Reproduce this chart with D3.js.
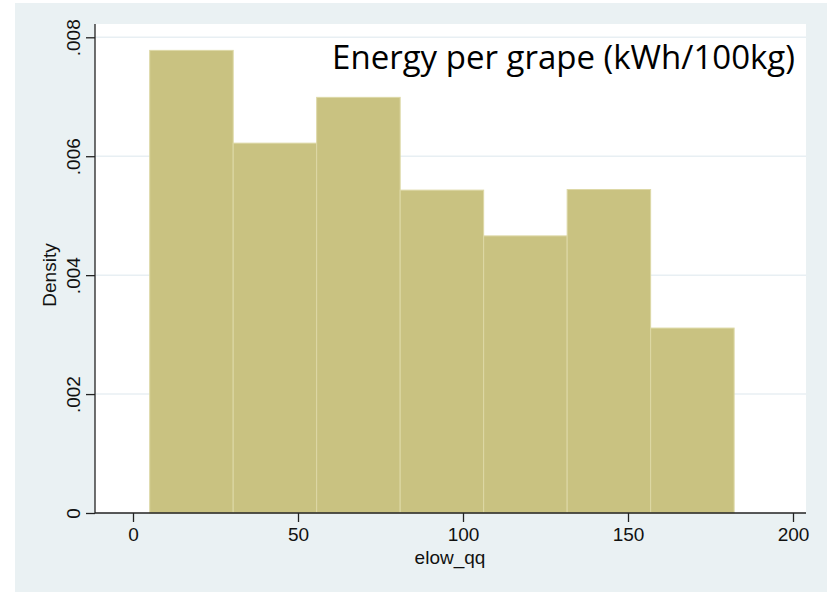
<!DOCTYPE html>
<html>
<head>
<meta charset="utf-8">
<script src="https://cdn.jsdelivr.net/npm/d3@7"></script>
<style>
  body { margin: 0; background: #fff; }
  svg { display: block; }
</style>
</head>
<body>
<svg id="chart"></svg>
<script>
// histogram of elow_qq: bin edges and densities
const binStart = 5.06;
const binWidth = 25.3;
const densities = [0.00778, 0.00622, 0.00699, 0.00543, 0.00466, 0.00544, 0.00311];
const xTicks = [0, 50, 100, 150, 200];
const yTicks = [0, 0.002, 0.004, 0.006, 0.008];
const yTickLabels = ["0", ".002", ".004", ".006", ".008"];
const title = "Energy per grape (kWh/100kg)";

const width = 833, height = 592;
const plot = { left: 95, right: 806, top: 24, bottom: 513 };
const font = "'Liberation Sans', Arial, Helvetica, sans-serif";

const svg = d3.select("#chart").attr("width", width).attr("height", height);

// outer grey-blue panel
svg.append("rect")
  .attr("x", 15).attr("y", 3)
  .attr("width", 812).attr("height", 589)
  .attr("fill", "#eaf1f3");

// white plot region
svg.append("rect")
  .attr("x", plot.left).attr("y", plot.top)
  .attr("width", plot.right - plot.left).attr("height", plot.bottom - plot.top)
  .attr("fill", "#fff");

const x = d3.scaleLinear().domain([0, 200]).range([133, 793]);
const y = d3.scaleLinear().domain([0, 0.008]).range([plot.bottom, 37.3]);

// gridlines
svg.append("g")
  .selectAll("line")
  .data(yTicks.filter(d => d > 0))
  .join("line")
  .attr("x1", plot.left).attr("x2", plot.right)
  .attr("y1", d => y(d)).attr("y2", d => y(d))
  .attr("stroke", "#e8eff3")
  .attr("stroke-width", 1.5);

// bars
const bins = densities.map((d, i) => ({ x0: binStart + i * binWidth, x1: binStart + (i + 1) * binWidth, d }));
svg.append("g")
  .selectAll("rect")
  .data(bins)
  .join("rect")
  .attr("x", b => x(b.x0))
  .attr("y", b => y(b.d))
  .attr("width", b => x(b.x1) - x(b.x0))
  .attr("height", b => y(0) - y(b.d))
  .attr("fill", "#c9c281")
  .attr("stroke", "#ddd8a6")
  .attr("stroke-width", 1);

// axes
const xAxis = svg.append("g")
  .attr("transform", "translate(0," + plot.bottom + ")")
  .call(d3.axisBottom(x).tickValues(xTicks).tickSize(9).tickPadding(6).tickSizeOuter(0));
xAxis.select(".domain").attr("d", "M" + plot.left + ",0H" + plot.right).attr("stroke", "#222").attr("stroke-width", 1.3);
xAxis.selectAll(".tick line").attr("stroke", "#222").attr("stroke-width", 1.3);
xAxis.selectAll("text")
  .attr("font-family", font)
  .attr("font-size", 19)
  .attr("fill", "#111");

const yAxis = svg.append("g")
  .attr("transform", "translate(" + plot.left + ",0)")
  .call(d3.axisLeft(y).tickValues(yTicks).tickFormat((d, i) => yTickLabels[i]).tickSize(9).tickSizeOuter(0));
yAxis.select(".domain").attr("d", "M0," + plot.bottom + "V" + plot.top).attr("stroke", "#222").attr("stroke-width", 1.3);
yAxis.selectAll(".tick line").attr("stroke", "#222").attr("stroke-width", 1.3);
yAxis.selectAll("text")
  .attr("x", null).attr("dy", null)
  .attr("transform", "translate(-15,0) rotate(-90)")
  .attr("text-anchor", "middle")
  .attr("font-family", font)
  .attr("font-size", 19)
  .attr("fill", "#111");

// axis titles
svg.append("text")
  .attr("transform", "translate(56,275) rotate(-90)")
  .attr("text-anchor", "middle")
  .attr("font-family", font)
  .attr("font-size", 19)
  .attr("fill", "#111")
  .text("Density");

svg.append("text")
  .attr("x", 450).attr("y", 564)
  .attr("text-anchor", "middle")
  .attr("font-family", font)
  .attr("font-size", 19)
  .attr("fill", "#111")
  .text("elow_qq");

// overlay title
svg.append("text")
  .attr("x", 795).attr("y", 69)
  .attr("text-anchor", "end")
  .attr("font-family", "'Open Sans', Lato, sans-serif")
  .attr("font-size", 33)
  .attr("fill", "#000")
  .text(title);
</script>
</body>
</html>
